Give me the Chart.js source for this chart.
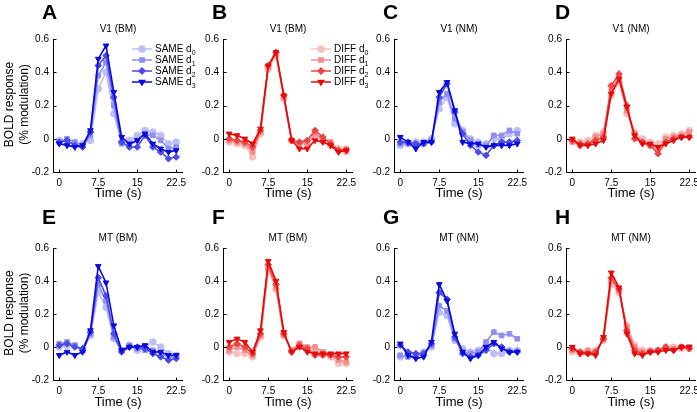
<!DOCTYPE html>
<html>
<head>
<meta charset="utf-8">
<script src="https://cdn.jsdelivr.net/npm/chart.js@4.4.1/dist/chart.umd.min.js"></script>
<style>
  body { margin: 0; background: #fff; width: 697px; height: 412px; overflow: hidden; position: relative; }
  canvas { position: absolute; }
</style>
</head>
<body>
<script>
// time axis (s) and tick labels
const times = [0, 1.5, 3, 4.5, 6, 7.5, 9, 10.5, 12, 13.5, 15, 16.5, 18, 19.5, 21, 22.5];
const xTicks = [0, 7.5, 15, 22.5];
const yTicks = [-0.2, 0, 0.2, 0.4, 0.6];
const levels = ["0", "1", "2", "3"];

// BOLD response, rows are d0..d3
const v1bmSame = [
  [-0.01, -0.02, -0.03, -0.03, -0.01, 0.30, 0.40, 0.15, -0.02, -0.01, 0.02, 0.05, 0.04, 0.02, -0.03, -0.02],
  [-0.02, 0.00, -0.02, -0.04, 0.02, 0.38, 0.46, 0.20, -0.03, -0.04, -0.01, 0.03, 0.02, -0.01, -0.06, -0.05],
  [-0.02, -0.01, -0.04, -0.05, 0.04, 0.44, 0.50, 0.25, -0.02, -0.05, -0.05, 0.02, -0.05, -0.08, -0.12, -0.11],
  [-0.03, -0.04, -0.05, -0.04, 0.05, 0.48, 0.56, 0.28, 0.01, -0.03, -0.01, 0.03, -0.03, -0.06, -0.08, -0.07]
];
const v1bmDiff = [
  [-0.02, -0.03, -0.04, -0.11, 0.03, 0.42, 0.50, 0.24, -0.01, -0.03, -0.02, 0.02, -0.01, -0.04, -0.06, -0.08],
  [-0.01, -0.02, -0.03, -0.08, 0.04, 0.43, 0.51, 0.25, -0.01, -0.03, -0.03, 0.03, 0.00, -0.02, -0.07, -0.06],
  [0.00, -0.01, -0.02, -0.05, 0.05, 0.44, 0.52, 0.26, -0.01, -0.02, -0.01, 0.05, 0.01, -0.03, -0.07, -0.07],
  [0.03, 0.02, 0.00, -0.03, 0.06, 0.44, 0.52, 0.26, -0.01, -0.06, -0.06, -0.01, -0.02, -0.04, -0.08, -0.07]
];
const v1nmSame = [
  [-0.04, -0.03, -0.02, -0.02, 0.00, 0.18, 0.25, 0.09, 0.05, 0.00, -0.02, -0.03, 0.00, 0.00, 0.03, 0.05],
  [-0.03, -0.03, -0.03, -0.03, -0.01, 0.22, 0.27, 0.12, 0.04, -0.01, -0.04, -0.04, 0.02, 0.02, 0.05, 0.03],
  [-0.02, -0.02, -0.03, -0.03, -0.02, 0.25, 0.33, 0.16, 0.03, -0.04, -0.08, -0.10, -0.04, -0.02, -0.02, -0.01],
  [0.01, -0.02, -0.06, -0.02, -0.02, 0.28, 0.34, 0.17, -0.02, -0.03, -0.03, -0.05, -0.04, -0.04, -0.04, -0.03]
];
const v1nmDiff = [
  [-0.01, -0.02, -0.01, 0.02, 0.04, 0.26, 0.34, 0.15, 0.04, 0.00, -0.02, -0.03, 0.01, 0.02, 0.03, 0.05],
  [-0.02, -0.04, -0.03, 0.01, 0.03, 0.30, 0.37, 0.17, 0.03, -0.02, -0.04, -0.06, 0.00, 0.01, 0.02, 0.04],
  [-0.01, -0.03, -0.03, -0.01, 0.01, 0.32, 0.39, 0.20, 0.00, -0.02, -0.04, -0.09, -0.02, 0.00, 0.01, 0.01],
  [0.00, -0.04, -0.04, -0.03, -0.01, 0.27, 0.36, 0.19, 0.02, -0.03, -0.03, -0.05, -0.03, -0.01, 0.01, 0.01]
];
const mtbmSame = [
  [0.00, 0.01, 0.01, -0.02, 0.07, 0.33, 0.24, 0.05, -0.02, 0.01, -0.02, 0.00, 0.03, 0.00, -0.04, -0.05],
  [0.02, 0.03, 0.01, -0.02, 0.08, 0.38, 0.28, 0.06, -0.02, 0.01, -0.01, -0.02, -0.02, -0.04, -0.06, -0.06],
  [0.01, 0.02, 0.00, -0.01, 0.09, 0.42, 0.31, 0.08, -0.03, 0.00, 0.00, -0.01, -0.04, -0.06, -0.08, -0.07],
  [-0.05, -0.03, -0.05, -0.03, 0.10, 0.49, 0.39, 0.13, -0.02, 0.00, 0.00, 0.01, -0.03, -0.03, -0.05, -0.05]
];
const mtbmDiff = [
  [-0.03, -0.04, -0.04, -0.06, 0.06, 0.47, 0.35, 0.07, -0.02, 0.02, -0.01, -0.02, -0.04, -0.06, -0.10, -0.10],
  [-0.02, 0.00, -0.02, -0.05, 0.07, 0.48, 0.36, 0.07, -0.02, 0.02, 0.00, 0.00, -0.03, -0.05, -0.08, -0.09],
  [0.00, 0.02, 0.00, -0.04, 0.08, 0.50, 0.38, 0.08, -0.03, 0.01, -0.01, -0.05, -0.05, -0.05, -0.06, -0.06],
  [0.03, 0.05, 0.03, -0.03, 0.10, 0.52, 0.40, 0.09, -0.03, 0.00, -0.03, -0.04, -0.04, -0.04, -0.04, -0.04]
];
const mtnmSame = [
  [-0.06, -0.05, -0.05, -0.03, 0.00, 0.21, 0.19, 0.04, -0.01, -0.03, -0.02, 0.00, -0.04, -0.04, -0.02, -0.02],
  [-0.05, -0.06, -0.05, -0.04, 0.01, 0.25, 0.22, 0.05, -0.03, -0.04, -0.03, 0.03, 0.09, 0.07, 0.08, 0.05],
  [0.01, -0.03, -0.04, -0.04, 0.02, 0.33, 0.29, 0.06, -0.04, -0.06, -0.05, -0.02, 0.02, 0.00, -0.03, -0.03],
  [0.02, -0.05, -0.07, -0.06, 0.03, 0.38, 0.28, 0.08, -0.03, -0.07, -0.05, 0.00, 0.03, -0.01, -0.03, -0.03]
];
const mtnmDiff = [
  [-0.03, -0.04, -0.03, -0.02, 0.04, 0.38, 0.33, 0.13, 0.01, -0.02, -0.03, -0.02, 0.00, 0.00, -0.01, -0.01],
  [-0.02, -0.03, -0.02, -0.03, 0.05, 0.40, 0.34, 0.12, 0.00, -0.03, -0.02, -0.02, -0.01, -0.01, 0.00, 0.00],
  [-0.01, -0.03, -0.04, -0.03, 0.05, 0.42, 0.35, 0.10, -0.02, -0.04, -0.03, -0.02, 0.00, -0.02, 0.00, -0.01],
  [0.00, -0.04, -0.04, -0.05, 0.06, 0.45, 0.36, 0.08, -0.04, -0.05, -0.03, -0.03, -0.02, -0.02, 0.00, 0.00]
];

const blues = ["#bdbdf7", "#8f8ff0", "#4b4be6", "#0a0ade"];
const reds = ["#f7c0c0", "#f28d8d", "#ec4545", "#e60a0a"];
const markers = ["circle", "rect", "rectRot", "triangle"];
const markerRot = [0, 0, 0, 180];
const FONT = "'Liberation Sans', Arial, sans-serif";

const panelAxisX = [53, 223, 394, 566];

const panels = [
  { letter: "A", title: "V1 (BM)", data: v1bmSame, colors: blues, row: 0, col: 0, legend: "SAME", legX: 79, yTitle: true },
  { letter: "B", title: "V1 (BM)", data: v1bmDiff, colors: reds, row: 0, col: 1, legend: "DIFF", legX: 88 },
  { letter: "C", title: "V1 (NM)", data: v1nmSame, colors: blues, row: 0, col: 2 },
  { letter: "D", title: "V1 (NM)", data: v1nmDiff, colors: reds, row: 0, col: 3 },
  { letter: "E", title: "MT (BM)", data: mtbmSame, colors: blues, row: 1, col: 0, yTitle: true },
  { letter: "F", title: "MT (BM)", data: mtbmDiff, colors: reds, row: 1, col: 1 },
  { letter: "G", title: "MT (NM)", data: mtnmSame, colors: blues, row: 1, col: 2 },
  { letter: "H", title: "MT (NM)", data: mtnmDiff, colors: reds, row: 1, col: 3 }
];

// row geometry: canvas top, canvas height, plot top/bottom inside canvas
const rows = [
  { top: 0, height: 207, padTop: 39, bottom: 172, letterDy: 26, xTitleDy: 21 },
  { top: 207, height: 205, padTop: 41, bottom: 173, letterDy: 30, xTitleDy: 22 }
];

const decorPlugin = {
  id: "decor",
  afterDraw(chart) {
    const p = chart.options.plugins.decor;
    const ctx = chart.ctx;
    const a = chart.chartArea;
    const xs = chart.scales.x, ys = chart.scales.y;
    ctx.save();
    // axes (left + bottom) with inward ticks
    ctx.strokeStyle = "#000";
    ctx.lineWidth = 1;
    ctx.beginPath();
    const L = Math.round(a.left) + 0.5, B = Math.round(a.bottom) + 0.5;
    ctx.moveTo(L, Math.round(a.top));
    ctx.lineTo(L, B);
    ctx.lineTo(Math.round(a.right), B);
    xTicks.forEach(v => {
      const px = Math.round(xs.getPixelForValue(v)) + 0.5;
      ctx.moveTo(px, B);
      ctx.lineTo(px, B - 3);
    });
    yTicks.forEach(v => {
      const py = Math.round(ys.getPixelForValue(v)) + 0.5;
      ctx.moveTo(L, py);
      ctx.lineTo(L + 3, py);
    });
    ctx.stroke();

    ctx.fillStyle = "#000";
    // panel letter
    ctx.font = "bold 21px " + FONT;
    ctx.textAlign = "left";
    ctx.textBaseline = "middle";
    ctx.fillText(p.letter, a.left - 11, a.top - p.letterDy);
    // panel title
    ctx.font = "10px " + FONT;
    ctx.textAlign = "center";
    ctx.fillText(p.title, (a.left + a.right) / 2, a.top - 10);
    // x title
    ctx.font = "13px " + FONT;
    ctx.fillText("Time (s)", (a.left + a.right) / 2, a.bottom + p.xTitleDy);
    // y title
    if (p.yTitle) {
      ctx.save();
      ctx.translate(0, (a.top + a.bottom) / 2 - 1);
      ctx.rotate(-Math.PI / 2);
      ctx.font = "12px " + FONT;
      ctx.fillText("BOLD response", 0, 10);
      ctx.fillText("(% modulation)", 0, 25);
      ctx.restore();
    }
    // legend
    if (p.legend) {
      levels.forEach((lv, i) => {
        const y = a.top + 10 + i * 11;
        const x0 = a.left + p.legX;
        ctx.strokeStyle = p.colors[i];
        ctx.lineWidth = 1.5;
        ctx.beginPath();
        ctx.moveTo(x0, y);
        ctx.lineTo(x0 + 20, y);
        ctx.stroke();
        ctx.fillStyle = p.colors[i];
        ctx.strokeStyle = p.colors[i];
        Chart.helpers.drawPoint(ctx, { pointStyle: markers[i], radius: 3, rotation: markerRot[i], borderWidth: 1 }, x0 + 10, y);
        ctx.fillStyle = "#000";
        ctx.textAlign = "left";
        ctx.font = "10px " + FONT;
        ctx.fillText(p.legend + " d", x0 + 23, y);
        const w = ctx.measureText(p.legend + " d").width;
        ctx.font = "7px " + FONT;
        ctx.fillText(lv, x0 + 23 + w, y + 4);
      });
    }
    ctx.restore();
  }
};

function makePanel(p) {
  const r = rows[p.row];
  const canvas = document.createElement("canvas");
  const left = panelAxisX[p.col] - 53;
  canvas.width = 200;
  canvas.height = r.height;
  canvas.style.left = left + "px";
  canvas.style.top = r.top + "px";
  document.body.appendChild(canvas);

  const datasets = p.data.map((vals, i) => ({
    label: "d" + levels[i],
    data: times.map((t, k) => ({ x: t, y: vals[k] })),
    borderColor: p.colors[i],
    backgroundColor: p.colors[i],
    borderWidth: 1.6,
    pointStyle: markers[i],
    pointRotation: markerRot[i],
    pointRadius: 3.3,
    pointBorderWidth: 1,
    tension: 0,
    order: 3 - i
  }));

  new Chart(canvas, {
    type: "line",
    data: { datasets: datasets },
    plugins: [decorPlugin],
    options: {
      responsive: false,
      animation: false,
      layout: { padding: { top: r.padTop, right: 200 - 53 - 130, left: 0, bottom: 0 } },
      plugins: {
        legend: { display: false },
        tooltip: { enabled: false },
        decor: { letter: p.letter, title: p.title, legend: p.legend, legX: p.legX, colors: p.colors, yTitle: p.yTitle, letterDy: r.letterDy, xTitleDy: r.xTitleDy }
      },
      scales: {
        x: {
          type: "linear",
          min: -1.2,
          max: 23.8,
          grid: { display: false, drawTicks: false },
          border: { display: false },
          afterBuildTicks: s => { s.ticks = xTicks.map(v => ({ value: v })); },
          afterFit: s => { s.height = r.height - r.bottom; },
          ticks: { color: "#000", font: { size: 10, family: FONT }, padding: 5, maxRotation: 0, autoSkip: false, callback: v => String(v) }
        },
        y: {
          type: "linear",
          min: -0.2,
          max: 0.6,
          grid: { display: false, drawTicks: false },
          border: { display: false },
          afterBuildTicks: s => { s.ticks = yTicks.map(v => ({ value: v })); },
          afterFit: s => { s.width = 53; },
          ticks: { color: "#000", font: { size: 10, family: FONT }, padding: 4, autoSkip: false, callback: v => String(Math.round(v * 10) / 10) }
        }
      }
    }
  });
}

panels.forEach(makePanel);
</script>
</body>
</html>
